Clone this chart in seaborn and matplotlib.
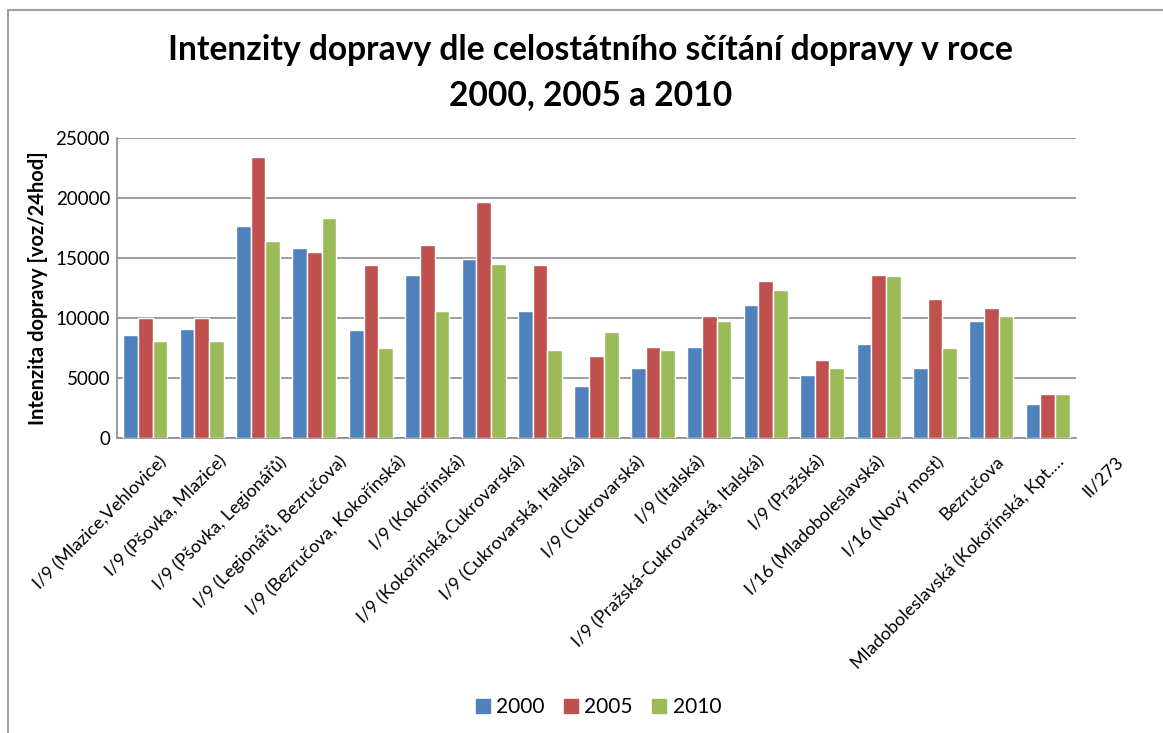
import pandas as pd
import seaborn as sns
import matplotlib.pyplot as plt
from matplotlib.lines import Line2D
from matplotlib.transforms import offset_copy

categories = [
    'I/9 (Mlazice,Vehlovice)',
    'I/9 (Pšovka, Mlazice)',
    'I/9 (Pšovka, Legionářů)',
    'I/9 (Legionářů, Bezručova)',
    'I/9 (Bezručova, Kokořínská)',
    'I/9 (Kokořínská)',
    'I/9 (Kokořínská,Cukrovarská)',
    'I/9 (Cukrovarská, Italská)',
    'I/9 (Cukrovarská)',
    'I/9 (Italská)',
    'I/9 (Pražská-Cukrovarská, Italská)',
    'I/9 (Pražská)',
    'I/16 (Mladoboleslavská)',
    'I/16 (Nový most)',
    'Bezručova',
    'Mladoboleslavská (Kokořínská, Kpt.…',
    'II/273',
]
years = ['2000', '2005', '2010']
values_2000 = [8600, 9100, 17650, 15800, 9000, 13600, 14900, 10600, 4330,
               5860, 7580, 11100, 5220, 7860, 5860, 9750, 2830]
values_2005 = [10000, 10000, 23400, 15500, 14400, 16100, 19700, 14400, 6860,
               7580, 10200, 13100, 6470, 13600, 11600, 10860, 3690]
values_2010 = [8100, 8100, 16400, 18300, 7470, 10600, 14500, 7360, 8860,
               7360, 9750, 12360, 5860, 13500, 7470, 10200, 3690]
colors = ['#4F81BD', '#C0504D', '#9BBB59']

df = pd.DataFrame({
    'kategorie': categories * 3,
    'rok': [y for y in years for _ in categories],
    'hodnota': values_2000 + values_2005 + values_2010,
})

sns.set_style('white')
plt.rcParams['font.family'] = ['Lato', 'DejaVu Sans']
plt.rcParams['text.color'] = 'black'
plt.rcParams['xtick.color'] = 'black'
plt.rcParams['ytick.color'] = 'black'
plt.rcParams['axes.labelcolor'] = 'black'

fig = plt.figure(figsize=(11.63, 7.33), dpi=100)
ax = fig.add_axes([117 / 1163, 1 - 438 / 733, 959 / 1163, 300 / 733])

sns.barplot(data=df, x='kategorie', y='hodnota', hue='rok', palette=colors,
            saturation=1, width=0.78, edgecolor='white', linewidth=1, ax=ax,
            legend=False, zorder=3)

ax.set_ylim(0, 25000)
ax.set_yticks(range(0, 25001, 5000))
ax.set_xlim(-0.5, len(categories) - 0.5)
ax.yaxis.grid(True, color='#8c8c8c', linewidth=1.2, zorder=0)
ax.set_axisbelow(True)
for side in ['top', 'right']:
    ax.spines[side].set_visible(False)
for side in ['left', 'bottom']:
    ax.spines[side].set_color('#8c8c8c')
    ax.spines[side].set_linewidth(1.2)
ax.tick_params(axis='y', labelsize=13.5, length=0, pad=5)
ax.set_xticks(range(len(categories)))
ax.set_xticklabels([])
ax.tick_params(axis='x', length=0)
ax.set_xlabel('')
ax.set_ylabel('Intenzita dopravy [voz/24hod]', fontsize=14.5, fontweight='bold',
              labelpad=5)

# rotated category labels; the spreadsheet spreads them a bit wider than the
# groups, so the shift to the right grows along the axis (pixels)
for i, cat in enumerate(categories):
    tr = offset_copy(ax.get_xaxis_transform(), fig=fig, x=13 + 3.4 * i, y=-15,
                     units='dots')
    ax.text(i, 0, cat, transform=tr, rotation=45, ha='right', va='top',
            rotation_mode='anchor', fontsize=13)

fig.text(0.508, 1 - 73 / 733,
         'Intenzity dopravy dle celostátního sčítání dopravy v roce\n2000, 2005 a 2010',
         ha='center', va='center', fontsize=24.2, fontweight='bold',
         linespacing=1.5)

handles = [Line2D([], [], marker='s', linestyle='', markersize=10,
                  markerfacecolor=c, markeredgecolor=c) for c in colors]
fig.legend(handles, years, loc='center', bbox_to_anchor=(0.514, 1 - 707 / 733),
           ncol=3, frameon=False, fontsize=15, handlelength=0.8,
           handletextpad=0.25, columnspacing=0.85)

# chart frame (only left and top edge visible)
fig.add_artist(Line2D([8 / 1163, 8 / 1163], [0, 1 - 10 / 733],
                      transform=fig.transFigure, color='#a0a0a0', linewidth=1.5))
fig.add_artist(Line2D([8 / 1163, 1], [1 - 10 / 733, 1 - 10 / 733],
                      transform=fig.transFigure, color='#a0a0a0', linewidth=1.5))

fig.savefig('out.png', dpi=100)
